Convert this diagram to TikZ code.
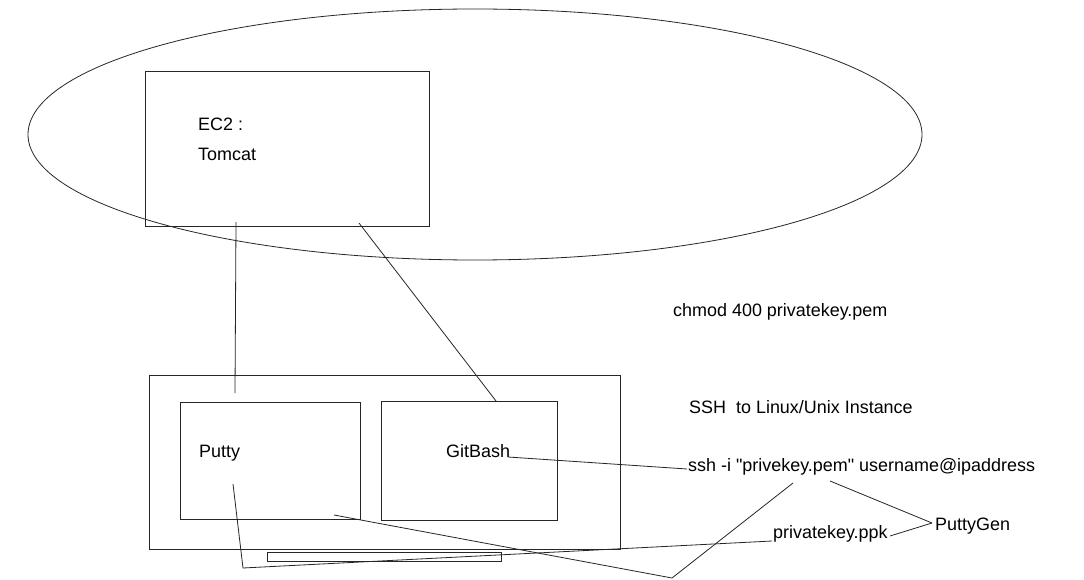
\documentclass[tikz,border=0pt]{standalone}
\usepackage{fontspec}
\setmainfont{Liberation Sans}
\usetikzlibrary{shapes.geometric}
\begin{document}
\begin{tikzpicture}[x=1pt,y=-1pt,
  ln/.style={draw=black!85, line width=0.8pt},
  box/.style={draw=black!85, line width=0.8pt, rectangle, inner sep=0pt},
  txt/.style={anchor=west, inner sep=0pt, font=\fontsize{17.95}{21}\selectfont}]
\useasboundingbox[fill=white] (0,0) rectangle (1084,580);
% shapes
\node[ln, ellipse, minimum width=894pt, minimum height=251pt, inner sep=0pt] (cloud) at (475,134.5) {};
\node[box, minimum width=284pt, minimum height=155pt] (ec2) at (287,148.5) {};
\node[box, minimum width=471pt, minimum height=174pt] (host) at (384.5,462) {};
\node[box, minimum width=180pt, minimum height=117pt] (puttybox) at (270,460.5) {};
\node[box, minimum width=176pt, minimum height=119pt] (gitbox) at (469,460.5) {};
\node[box, minimum width=234pt, minimum height=9pt] (slot) at (384,556.5) {};
% texts
\node[txt] (ec2t) at (198,124) {EC2 :};
\node[txt] (tomcat) at (198,154) {Tomcat};
\node[txt] (putty) at (199,453) {Putty};
\node[txt] (gitbash) at (446,451) {GitBash};
\node[txt] (chmod) at (673,312) {chmod 400 privatekey.pem};
\node[txt] (sshhdr) at (689,407) {SSH\ \ to Linux/Unix Instance};
\node[txt] (sshcmd) at (688,467) {ssh -i \textquotedbl privekey.pem\textquotedbl{} username@ipaddress};
\node[txt] (ppk) at (773,534) {privatekey.ppk};
\node[txt] (puttygen) at (935,526) {PuttyGen};
% free ends
\coordinate (a1) at (236,222);
\coordinate (a2) at (235,393);
\coordinate (b1) at (359,223);
\coordinate (b2) at (496,401);
\coordinate (c1) at (233,484);
\coordinate (c2) at (243,568);
\coordinate (c3) at (772,541);
\coordinate (d1) at (334,515);
\coordinate (d2) at (672,578);
\coordinate (d3) at (793,483);
\coordinate (e1) at (508,457);
\coordinate (e2) at (687,469);
\coordinate (f1) at (830,481);
\coordinate (pg) at (932,523);
\coordinate (g1) at (890,536);
% connectors
\draw[ln] (a1) -- (a2);
\draw[ln] (b1) -- (b2);
\draw[ln] (c1) -- (c2) -- (c3);
\draw[ln] (d1) -- (d2) -- (d3);
\draw[ln] (e1) -- (e2);
\draw[ln] (f1) -- (pg);
\draw[ln] (g1) -- (pg);
\end{tikzpicture}
\end{document}
